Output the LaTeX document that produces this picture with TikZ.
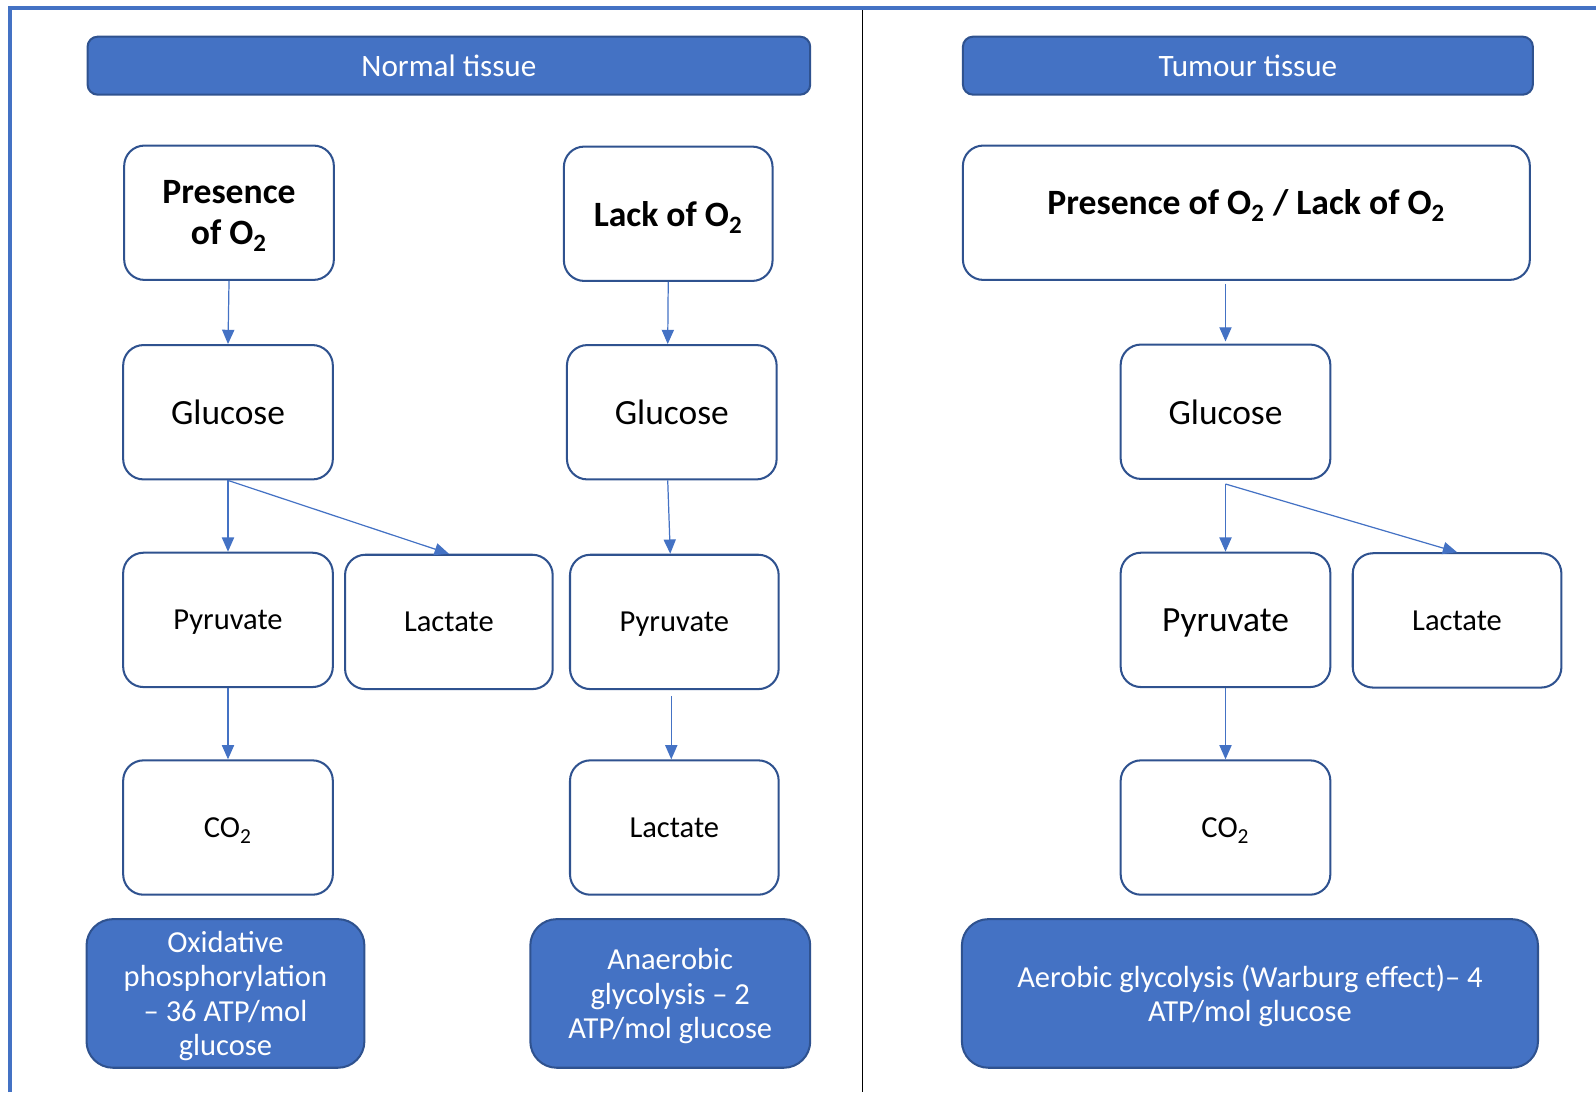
\documentclass[tikz,border=0pt]{standalone}
\usepackage{fontspec}
\setmainfont{Carlito}
\usetikzlibrary{arrows.meta}
\definecolor{accent}{HTML}{4472C4}
\definecolor{edge}{HTML}{2F528F}
\newcommand{\lowsub}[1]{\textsubscript{\raisebox{-1pt}{#1}}}
\begin{document}
\begin{tikzpicture}[x=0.5pt,y=-0.5pt,
  box/.style={draw=edge, line width=1pt, rounded corners=10pt, fill=white,
    inner sep=0pt, minimum width=103pt, minimum height=66pt, align=center,
    text depth=0pt, font=\fontsize{15}{17}\selectfont},
  bigtxt/.style={font=\fontsize{17.4}{20}\selectfont},
  boldtxt/.style={font=\fontsize{17.5}{20}\selectfont\bfseries},
  header/.style={draw=edge, line width=1pt, rounded corners=5pt, fill=accent,
    text=white, inner sep=0pt, minimum height=28.5pt,
    font=\fontsize{15.3}{17}\selectfont},
  result/.style={draw=edge, line width=1pt, rounded corners=13pt, fill=accent,
    text=white, inner sep=0pt, minimum height=73pt, align=center,
    text depth=0pt, font=\fontsize{15}{17}\selectfont},
  arr/.style={draw=accent, line width=0.6pt, -{Triangle[length=7pt,width=6pt]}},
  frame/.style={draw=accent, line width=2pt},
  divider/.style={draw=black, line width=0.6pt}
]
\useasboundingbox (0,0) rectangle (1568,1073);
% frame
\draw[frame] (10,1073) -- (10,8) -- (1568,8);
\draw[divider] (847,10) -- (847,1073);
% headers
\node[header, minimum width=355pt] (hn) at (441,64.5) {Normal tissue};
\node[header, minimum width=280pt] (ht) at (1226,64.5) {Tumour tissue};
% left column
\node[box, boldtxt] (p1) at (225,209) {Presence\\of O\lowsub{2}};
\node[box, bigtxt] (g1) at (224,405) {Glucose};
\node[box] (py1) at (224,609) {Pyruvate};
\node[box] (co1) at (224,813) {CO\lowsub{2}};
\node[box, minimum width=102pt] (la1) at (441,611) {Lactate};
\node[result, minimum width=136.5pt] (ox) at (221.5,976) {Oxidative\\phosphorylation\\– 36 ATP/mol\\glucose};
% middle column
\node[box, boldtxt, minimum width=102.5pt] (lk) at (656.5,210) {Lack of O\lowsub{2}};
\node[box, bigtxt] (g2) at (660,405) {Glucose};
\node[box, minimum width=102.5pt] (py2) at (662.5,611) {Pyruvate};
\node[box, minimum width=102.5pt] (la2) at (662.5,813) {Lactate};
\node[result, minimum width=137.5pt] (an) at (658.5,976) {Anaerobic\\glycolysis – 2\\ATP/mol glucose};
% right column
\node[box, boldtxt, minimum width=278.5pt] (p3) at (1224.5,209) {\raisebox{11pt}{Presence of O\lowsub{2} / Lack of O\lowsub{2}}};
\node[box, bigtxt] (g3) at (1204,404.5) {Glucose};
\node[box, bigtxt] (py3) at (1204,609) {Pyruvate};
\node[box, minimum width=102.5pt] (la3) at (1431.5,609.5) {Lactate};
\node[box] (co3) at (1204,813) {CO\lowsub{2}};
\node[result, minimum width=283pt] (ae) at (1228,976) {Aerobic glycolysis (Warburg effect)– 4\\ATP/mol glucose};
% arrows left
\draw[arr] (p1.south) -- (g1.north);
\draw[arr] (g1.south) -- (py1.north);
\draw[arr] (g1.south) -- (la1.north);
\draw[arr] (py1.south) -- (co1.north);
% arrows middle
\draw[arr] (lk.south) -- ([xshift=-2pt]g2.north);
\draw[arr] ([xshift=-2pt]g2.south) -- ([xshift=-2pt]py2.north);
\draw[arr] ([xshift=-1.5pt,yshift=-3pt]py2.south) -- ([xshift=-1.5pt]la2.north);
% arrows right
\draw[arr] ([yshift=-1.5pt]p3.south -| g3.north) -- ([yshift=1pt]g3.north);
\draw[arr] ([yshift=-2pt]g3.south) -- (py3.north);
\draw[arr] ([yshift=-2pt]g3.south) -- (la3.north);
\draw[arr] (py3.south) -- (co3.north);
\end{tikzpicture}
\end{document}
